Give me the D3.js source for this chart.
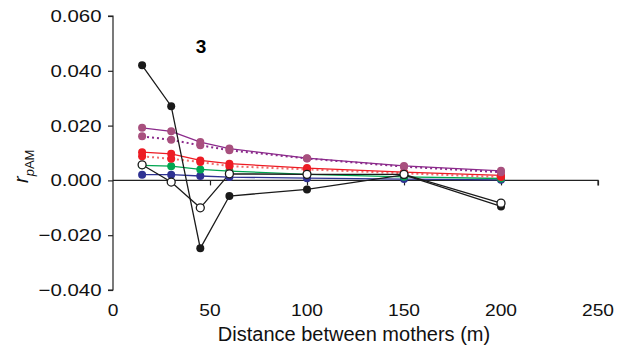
<!DOCTYPE html>
<html>
<head>
<meta charset="utf-8">
<script src="https://cdn.jsdelivr.net/npm/d3@7"></script>
<style>
  body { margin: 0; background: #fff; }
  text { font-family: "Liberation Sans", Arial, sans-serif; }
</style>
</head>
<body>
<div id="chart"></div>
<script>
var distances = [15, 30, 45, 60, 100, 150, 200];

var blackFilled = [0.042, 0.0271, -0.0248, -0.0057, -0.0033, 0.002, -0.0095];
var blackOpen   = [0.0057, -0.0006, -0.010, 0.0024, 0.0022, 0.0022, -0.0083];
var blueVals    = [0.0021, 0.0021, 0.0016, 0.0012, 0.0008, 0.0005, 0.0002];
var greenVals   = [0.0055, 0.0052, 0.004, 0.0034, 0.0022, 0.0013, 0.0007];
var redSolid    = [0.0103, 0.0097, 0.0073, 0.0061, 0.0045, 0.003, 0.0018];
var redDotted   = [0.0088, 0.0079, 0.0067, 0.0052, 0.004, 0.0026, 0.0012];
var pinkSolid   = [0.0192, 0.0179, 0.014, 0.0116, 0.0081, 0.0053, 0.0035];
var pinkDotted  = [0.0161, 0.0148, 0.0128, 0.011, 0.008, 0.005, 0.003];

var xTicks = [0, 50, 100, 150, 200, 250];
var yTicks = [-0.04, -0.02, 0, 0.02, 0.04, 0.06];

var width = 625, height = 346;

var svg = d3.select("#chart")
  .append("svg")
  .attr("width", width)
  .attr("height", height);

var x = d3.scaleLinear().domain([0, 250]).range([113, 598]);
var y = d3.scaleLinear().domain([-0.04, 0.06]).range([290, 16]);

// series, bottom first
var series = [
  { vals: blueVals,   line: "#2e3192", dot: "#2e3192", dash: null },
  { vals: greenVals,  line: "#00a651", dot: "#00a651", dash: null },
  { vals: redDotted,  line: "#f06b6b", dot: "#ed1c24", dash: "2,3" },
  { vals: redSolid,   line: "#ed1c24", dot: "#ed1c24", dash: null },
  { vals: pinkDotted, line: "#8b2a8b", dot: "#a8507e", dash: "2,3" },
  { vals: pinkSolid,  line: "#8b2a8b", dot: "#a8507e", dash: null },
  { vals: blackFilled, line: "#1a1a1a", dot: "#1a1a1a", dash: null },
  { vals: blackOpen,  line: "#1a1a1a", dot: "#ffffff", dash: null, stroke: "#1a1a1a" }
];

var fmt = function(d) { return d3.format(".3f")(d).replace("-", "\u2212"); };

// y axis
svg.append("g")
  .attr("transform", "translate(113,0)")
  .call(d3.axisLeft(y).tickValues(yTicks).tickSize(5).tickFormat(fmt))
  .call(function(g) {
    g.select(".domain").attr("stroke", "#222").attr("stroke-width", 1.2).attr("d", "M-5,16H0V290H-5");
    g.selectAll(".tick line").attr("stroke", "#222").attr("stroke-width", 1.2);
    g.selectAll(".tick text")
      .attr("x", -9.6)
      .attr("transform", "scale(1.2,1)")
      .attr("font-size", 17)
      .attr("fill", "#111");
  });

// x axis along zero
var xAxis = svg.append("g")
  .attr("transform", "translate(0," + y(0) + ")")
  .call(d3.axisBottom(x).tickValues(xTicks).tickSize(5).tickFormat(""));
xAxis.select(".domain").attr("stroke", "#222").attr("stroke-width", 1.2).attr("d", "M113,0H598V5");
xAxis.selectAll(".tick line").attr("stroke", "#222").attr("stroke-width", 1.2)
  .filter(function(d) { return d === 0; }).remove();

svg.append("g").selectAll("text")
  .data(xTicks)
  .enter().append("text")
  .attr("transform", function(d) { return "translate(" + x(d) + ",316) scale(1.2,1)"; })
  .attr("text-anchor", "middle")
  .attr("font-size", 16)
  .attr("fill", "#111")
  .text(function(d) { return d; });

svg.append("text")
  .attr("x", 354)
  .attr("y", 341)
  .attr("text-anchor", "middle")
  .attr("font-size", 20)
  .attr("fill", "#111")
  .text("Distance between mothers (m)");

// y label r_pAM
var yl = svg.append("text")
  .attr("transform", "translate(28,183) rotate(-90)")
  .attr("text-anchor", "start")
  .attr("font-size", 20)
  .attr("fill", "#111");
yl.append("tspan").attr("font-style", "italic").text("r");
yl.append("tspan").attr("font-style", "italic").attr("font-size", 13).attr("dy", 6).text("p");
yl.append("tspan").attr("font-size", 13).text("AM");

svg.append("text")
  .attr("x", 201)
  .attr("y", 53)
  .attr("text-anchor", "middle")
  .attr("font-size", 19)
  .attr("font-weight", "bold")
  .text("3");

var line = d3.line()
  .x(function(d, i) { return x(distances[i]); })
  .y(function(d) { return y(d); });

series.forEach(function(s) {
  svg.append("path")
    .attr("d", line(s.vals))
    .attr("fill", "none")
    .attr("stroke", s.line)
    .attr("stroke-width", s.dash ? 2 : 1.3)
    .attr("stroke-dasharray", s.dash);
});

series.forEach(function(s) {
  svg.append("g").selectAll("circle")
    .data(s.vals)
    .enter().append("circle")
    .attr("cx", function(d, i) { return x(distances[i]); })
    .attr("cy", function(d) { return y(d); })
    .attr("r", 4)
    .attr("fill", s.dot)
    .attr("stroke", s.stroke || "none")
    .attr("stroke-width", 1.3);
});
</script>
</body>
</html>
